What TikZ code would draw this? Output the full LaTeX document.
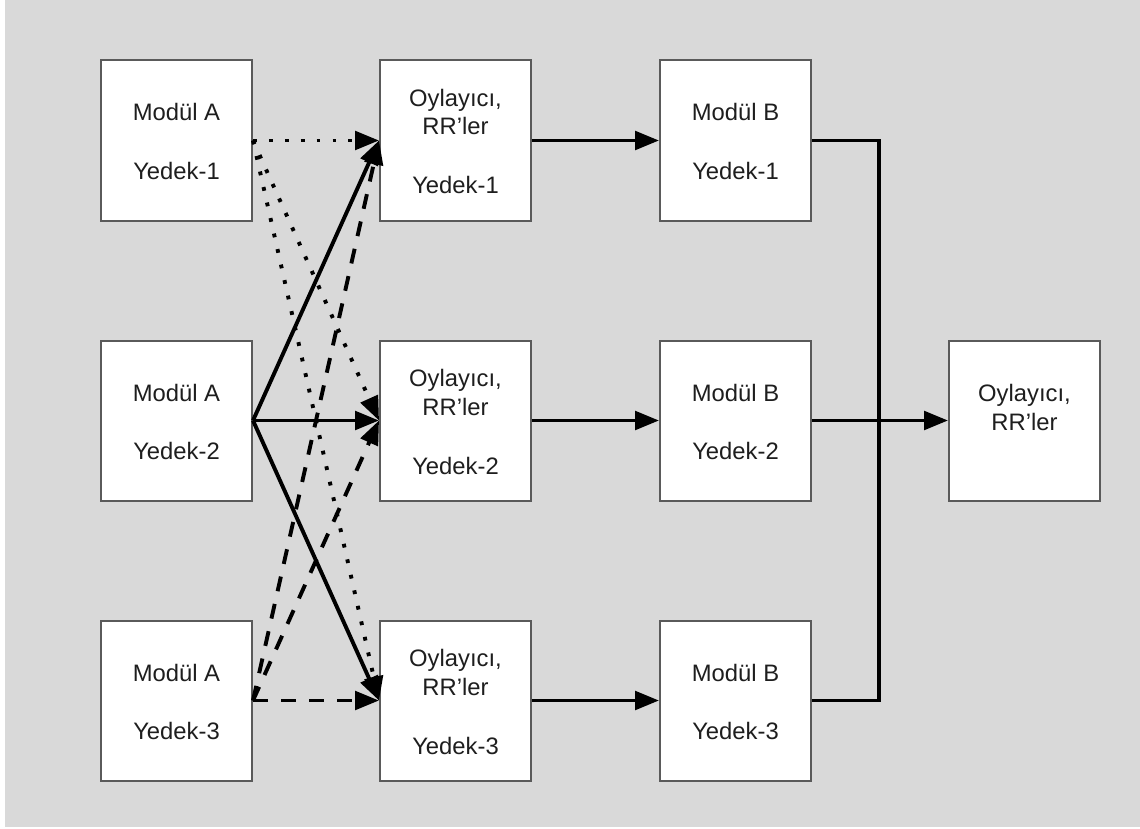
\documentclass[tikz,border=0pt]{standalone}
\usepackage{fontspec}
\setmainfont{Liberation Sans}
\usetikzlibrary{arrows.meta}
\definecolor{bggray}{HTML}{D9D9D9}
\definecolor{boxedge}{HTML}{5A5A5A}
\definecolor{textcol}{HTML}{1E1E1E}
\begin{document}
\begin{tikzpicture}[x=1pt,y=-1pt,
  box/.style={draw=boxedge, fill=white, line width=2pt,
    minimum width=151pt, minimum height=160pt, inner sep=0pt},
  lbl/.style={anchor=base, inner sep=0pt,
    font=\fontsize{23.8}{28}\selectfont, text=textcol},
  wire/.style={line width=3.9pt, black},
  tip/.style={-{Triangle[length=24pt,width=18.5pt]}},
  dotline/.style={wire, tip, dash pattern=on 3.8pt off 12.1pt},
  dashline/.style={wire, tip, dash pattern=on 15pt off 13pt},
  solidline/.style={wire, tip}]

% canvas
\useasboundingbox (0,0) rectangle (1140,829);
\fill[white] (0,0) rectangle (1140,829);
\fill[bggray] (5,0) rectangle (1140,827);

% module boxes
\foreach \r/\y in {1/140.5, 2/420.5, 3/700.5} {
  \node[box] (a\r) at (176.5,\y) {};
  \node[box] (o\r) at (455.5,\y) {};
  \node[box] (b\r) at (735.5,\y) {};
  \path (a\r.center) ++(0,-19.5) node[lbl] (a\r top) {Modül A};
  \path (a\r.center) ++(0,39)    node[lbl] (a\r bot) {Yedek-\r};
  \path (o\r.center) ++(0,-33.8) node[lbl] (o\r top) {Oylayıcı,};
  \path (o\r.center) ++(0,-5.5)  node[lbl] (o\r mid) {RR’ler};
  \path (o\r.center) ++(0,53.5)  node[lbl] (o\r bot) {Yedek-\r};
  \path (b\r.center) ++(0,-19.5) node[lbl] (b\r top) {Modül B};
  \path (b\r.center) ++(0,39)    node[lbl] (b\r bot) {Yedek-\r};
}
\node[box] (f) at (1024.5,420.5) {};
\path (f.center) ++(0,-18.8) node[lbl] (ftop) {Oylayıcı,};
\path (f.center) ++(0,9.5)   node[lbl] (fmid) {RR’ler};

% replica 1 of module A: dotted
\foreach \t in {1,2,3}
  \draw[dotline] (a1.east) -- (o\t.west);
% replica 2 of module A: solid
\foreach \t in {1,2,3}
  \draw[solidline] (a2.east) -- (o\t.west);
% replica 3 of module A: dashed
\foreach \t in {1,2,3}
  \draw[dashline] (a3.east) -- (o\t.west);

% voters to module B
\foreach \r in {1,2,3}
  \draw[solidline] (o\r.east) -- (b\r.west);

% module B outputs to the final voter
\coordinate (j1) at (879,140.5);
\coordinate (j3) at (879,700.5);
\draw[wire] (b1.east) -- (j1) -- (j3) -- (b3.east);
\draw[solidline] (b2.east) -- (f.west);
\end{tikzpicture}
\end{document}
